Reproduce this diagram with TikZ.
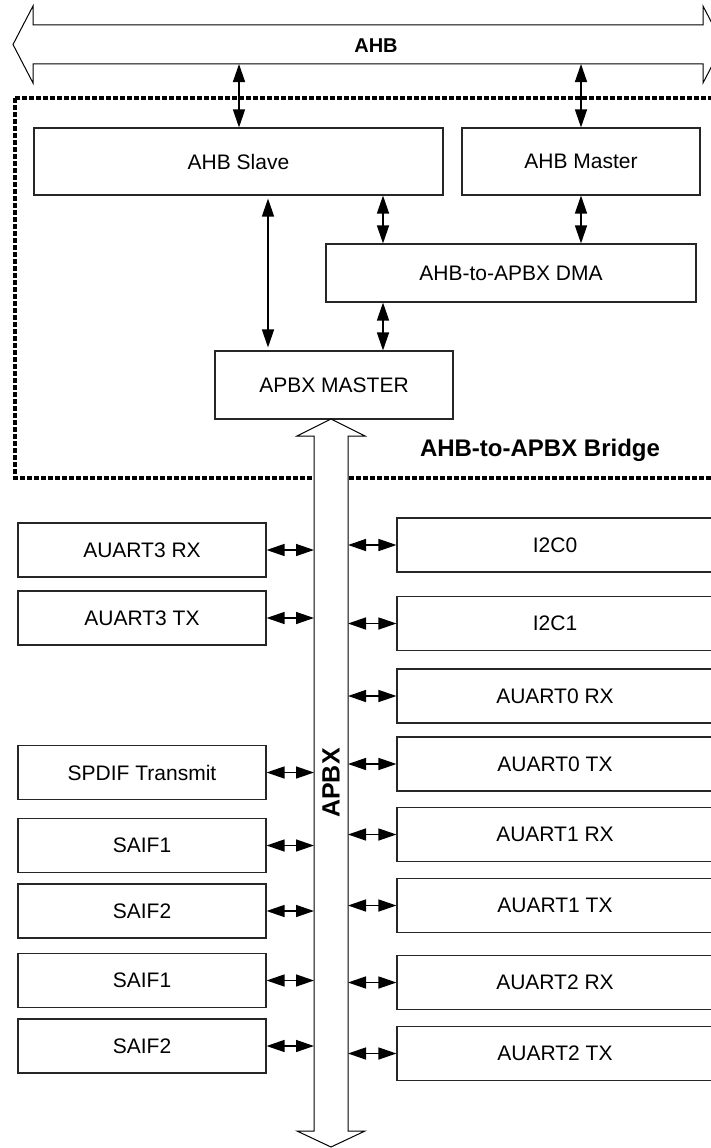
\documentclass[tikz,border=0pt]{standalone}
\usepackage{fontspec}
\setmainfont{Liberation Sans}
\usetikzlibrary{arrows.meta}
\begin{document}
\begin{tikzpicture}[x=1pt,y=-1pt,
  box/.style={draw=black!85, line width=1.1pt, inner sep=0pt, font=\fontsize{21}{25}\selectfont, fill=white},
  lbox/.style={box, minimum width=248pt, minimum height=54pt},
  rbox/.style={box, minimum width=316pt, minimum height=54pt},
  biarrow/.style={{Triangle[length=18pt,width=12pt]}-{Triangle[length=18pt,width=12pt]}, line width=1.4pt},
  fat/.style={draw=black, line width=1pt, fill=white, line join=miter},
  blabel/.style={inner sep=0pt, font=\fontsize{#1}{#1}\selectfont\bfseries}
]
\clip (0,0) rectangle (711,1148);
\fill[white] (0,0) rectangle (711,1148);

% bridge border
\draw[line width=3.5pt, dash pattern=on 5pt off 2pt] (15,98) rectangle (740,478);

% AHB bus
\draw[fat] (13,44.5) -- (33,6) -- (33,25) -- (703,25) -- (703,6) -- (723,44.5)
  -- (703,83) -- (703,64) -- (33,64) -- (33,83) -- cycle;
\node[blabel=20] (ahbl) at (376,46) {AHB};
\coordinate (ahbS) at (239,64);
\coordinate (ahbM) at (581,64);

% upper blocks
\node[box, minimum width=409pt, minimum height=67pt] (slave) at (238.5,161.5) {AHB Slave};
\node[box, minimum width=238pt, minimum height=67pt] (master) at (581,161.5) {AHB Master};
\node[box, minimum width=370pt, minimum height=58pt] (dma) at (511,273) {AHB-to-APBX DMA};
\node[box, minimum width=238pt, minimum height=68pt] (apbxm) at (334,385) {APBX MASTER};

\coordinate (c268) at (268,0);
\coordinate (c383) at (383,0);

\draw[biarrow] (ahbS) -- (ahbS |- slave.north);
\draw[biarrow] (ahbM) -- (ahbM |- master.north);
\draw[biarrow, shorten <=3pt, shorten >=3pt] (slave.south -| c268) -- (apbxm.north -| c268);
\draw[biarrow] (slave.south -| c383) -- (dma.north -| c383);
\draw[biarrow] (master.south) -- (dma.north -| master.south);
\draw[biarrow] (dma.south -| c383) -- (apbxm.north -| c383);

\node[blabel=24] (bridge) at (540,450) {AHB-to-APBX Bridge};

% APBX bus
\draw[fat] (331,419) -- (365,436) -- (348,436) -- (348,1131) -- (365,1131) -- (331,1147)
  -- (297,1131) -- (314,1131) -- (314,436) -- (297,436) -- cycle;
\node[blabel=25, rotate=90] (apbxl) at (331,783) {APBX};
\coordinate (apbxL) at (314,0);
\coordinate (apbxR) at (348,0);

% left peripherals
\foreach \n/\y/\t in {l1/550/AUART3 RX, l2/618/AUART3 TX, l3/772.5/SPDIF Transmit,
  l4/845.5/SAIF1, l5/911/SAIF2, l6/980.5/SAIF1, l7/1046/SAIF2} {
  \node[lbox] (\n) at (142,\y) {\t};
  \draw[biarrow] (\n.east) -- (\n.east -| apbxL);
}

% right peripherals
\foreach \n/\y/\t in {r1/545/I2C0, r2/623.5/I2C1, r3/696/AUART0 RX, r4/764/AUART0 TX,
  r5/834.5/AUART1 RX, r6/905.5/AUART1 TX, r7/982.5/AUART2 RX, r8/1053.5/AUART2 TX} {
  \node[rbox] (\n) at (555,\y) {\t};
  \draw[biarrow] (\n.west) -- (\n.west -| apbxR);
}
\end{tikzpicture}
\end{document}
